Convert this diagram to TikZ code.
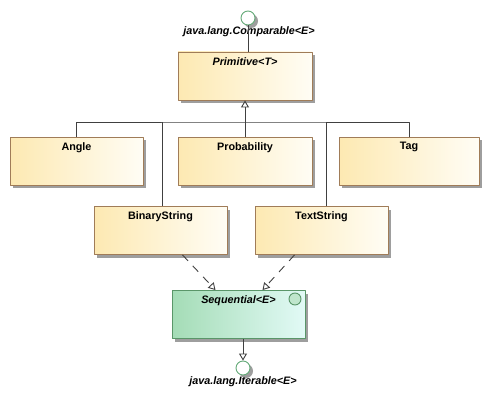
\documentclass[tikz,border=0pt]{standalone}
\usepackage{fontspec}
\setmainfont{Liberation Sans}
\usetikzlibrary{arrows.meta,shadows}
\definecolor{clsleft}{RGB}{253,233,178}
\definecolor{clsright}{RGB}{255,253,245}
\definecolor{clsedge}{RGB}{160,124,88}
\definecolor{ifleft}{RGB}{164,220,182}
\definecolor{ifright}{RGB}{226,250,246}
\definecolor{ifedge}{RGB}{90,150,105}
\definecolor{lolli}{RGB}{100,170,120}
\definecolor{wire}{RGB}{64,64,64}
\begin{document}
\begin{tikzpicture}[x=1pt,y=-1pt,line join=round,line width=0.9pt,
	font=\fontsize{10.8}{12}\selectfont\bfseries,
	shade/.style={drop shadow={shadow xshift=3pt,shadow yshift=-3pt,fill=black!38,opacity=1}},
	cls/.style={draw=clsedge,left color=clsleft,right color=clsright,shade,
		minimum width=133pt,minimum height=48pt,inner sep=0pt},
	iface/.style={cls,draw=ifedge,left color=ifleft,right color=ifright},
	title/.style={label={[anchor=north,yshift=-2pt]north:#1}},
	lolly/.style={circle,draw=lolli,fill=white,minimum size=14pt,inner sep=0pt,shade},
	gen/.style={draw=wire,-{Triangle[open,length=7pt,width=8pt]}},
	real/.style={gen,dash pattern=on 8pt off 7pt}]
	\useasboundingbox (0,0) rectangle (489,401);
	% interfaces
	\node[lolly] (comp) at (248,18) {};
	\node (complbl) at (249,32) {\itshape java.lang.Comparable<E>};
	\node[lolly] (iter) at (243,368) {};
	\node (iterlbl) at (243,382) {\itshape java.lang.Iterable<E>};
	% classes
	\node[cls,title={\itshape Primitive<T>},minimum width=134pt] (prim) at (245,76) {};
	\node[cls,title=Angle] (angle) at (76.5,161) {};
	\node[cls,title=Probability,minimum width=134pt] (prob) at (245,161) {};
	\node[cls,title=Tag,minimum width=140pt] (tag) at (409,161) {};
	\node[cls,title=BinaryString] (bin) at (160.5,230.5) {};
	\node[cls,title=TextString] (txt) at (321.5,230.5) {};
	\node[iface,title={\itshape Sequential<E>}] (seq) at (238.5,314.5) {};
	\draw[draw=ifedge,fill=ifleft!70!white] (295,299) circle (6);
	% generalization tree
	\coordinate (hub) at (245,122);
	\draw[wire] (comp) -- (comp |- prim.north);
	\draw[gen] (hub) -- (prim.south);
	\draw[wire] (angle.north) |- (hub) -| (tag.north);
	\draw[wire] (prob.north) -- (hub);
	\draw[wire] ([xshift=1.5pt]bin.north) -- ([xshift=1.5pt]bin.north |- hub);
	\draw[wire] ([xshift=4.5pt]txt.north) -- ([xshift=4.5pt]txt.north |- hub);
	% realizations
	\draw[real] ([xshift=22pt]bin.south) -- ([xshift=-23pt]seq.north);
	\draw[real] ([xshift=-27pt]txt.south) -- ([xshift=24pt]seq.north);
	\draw[gen] (iter |- seq.south) -- (iter);
\end{tikzpicture}
\end{document}
